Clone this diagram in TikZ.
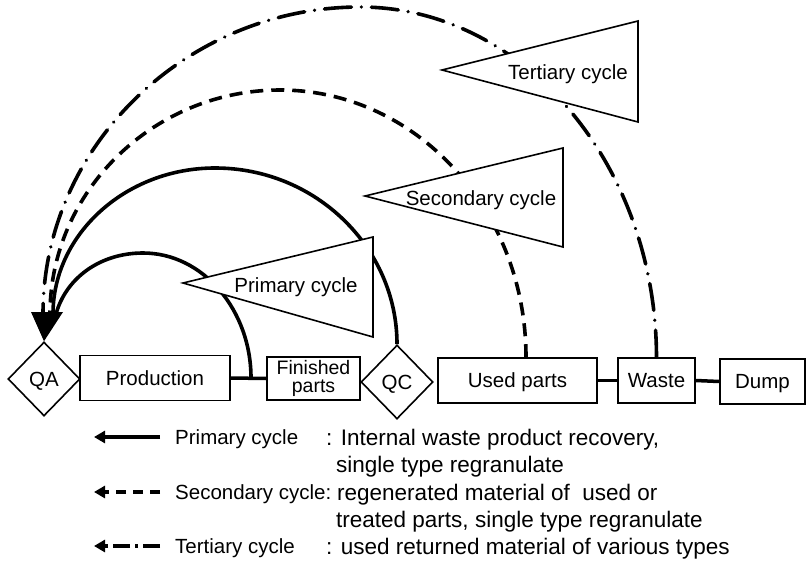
\documentclass[tikz,border=0pt]{standalone}
\usepackage{fontspec}
\setmainfont{Liberation Sans}
\usetikzlibrary{shapes.geometric,arrows.meta}
\begin{document}
\begin{tikzpicture}[x=1pt,y=-1pt,
  lbl/.style={font=\fontsize{20.5}{24}\selectfont, inner sep=0pt},
  capt/.style={lbl, text height=14.7pt, text depth=0pt},
  box/.style={draw, line width=1.6pt, rectangle, minimum height=45pt, inner sep=0pt},
  dia/.style={draw, line width=1.6pt, diamond, minimum width=72pt, minimum height=74pt, inner sep=0pt},
  link/.style={line width=3.5pt},
  cyc/.style={line width=3.6pt},
  prim/.style={cyc},
  sec/.style={cyc, dash pattern=on 13pt off 8pt},
  ter/.style={cyc, line cap=round, dash pattern=on 27pt off 10pt on 0.01pt off 10pt},
  tri/.style={draw, fill=white, line width=1.6pt, line join=miter},
  legl/.style={font=\fontsize{20.5}{24}\selectfont, inner sep=0pt, anchor=west, text height=14.7pt, text depth=0pt},
  leg/.style={font=\fontsize{22.5}{26}\selectfont, inner sep=0pt, anchor=west, text height=16.1pt, text depth=0pt},
  legarrow/.style={line width=3.2pt, -{Triangle[length=11pt,width=12pt]}},
]
\useasboundingbox (0,0) rectangle (808,562);

% bottom row
\node[dia, capt] (qa) at (44,379) {QA};
\node[box, capt, minimum width=150pt] (prod) at (155,378) {Production};
\node[box, minimum width=93pt, minimum height=43pt, inner sep=0pt, align=center, font=\fontsize{19.5}{18.5}\selectfont] (fin) at (313.5,378.5) {Finished\\parts};
\node[dia, capt] (qc) at (397,382) {QC};
\node[box, capt, minimum width=159pt] (used) at (517.5,380.5) {Used parts};
\node[box, capt, minimum width=77pt] (waste) at (656.5,380.5) {Waste};
\node[box, capt, minimum width=85pt] (dump) at (762.5,381.5) {Dump};

\draw[link] (prod.east) -- (fin.west);
\draw[link] (used.east) -- (waste.west);
\draw[link] (waste.east) -- (dump.west);

% arc ends
\coordinate (j1) at (251,378);
\coordinate (inT) at (43,314);
\coordinate (inS) at (50,314);
\coordinate (inO) at (53,314);
\coordinate (inI) at (56,314);

% cycles
\draw[ter] (waste.north) .. controls (656,164) and (523,7) .. (360,7) .. controls (188,7) and (43,145) .. (inT);
\draw[sec] ([xshift=8.5pt]used.north) .. controls (526,210) and (416,90) .. (280,90) .. controls (154,90) and (50,191) .. (inS);
\draw[prim] (qc.north) .. controls (397,248) and (316,168) .. (215,168) .. controls (126,168) and (53,234) .. (inO);
\draw[prim] (j1) .. controls (251,310) and (203,253) .. (143,253) .. controls (100,253) and (66,278) .. (inI);

% arrowhead into QA
\fill (31,312) -- (63,312) -- (qa.north) -- cycle;

% triangles
\draw[tri] (183,283) -- (373,237) -- (373,337) -- cycle;
\node[capt] (tp) at (296,285) {Primary cycle};
\draw[tri] (365,196) -- (563,148) -- (563,247) -- cycle;
\node[capt] (ts) at (481,198) {Secondary cycle};
\draw[tri] (442,70) -- (638,21) -- (638,122) -- cycle;
\node[capt] (tt) at (568,72) {Tertiary cycle};

% legend
\coordinate (a1r) at (160,437);
\coordinate (a1l) at (94,437);
\coordinate (a2r) at (160,492);
\coordinate (a2l) at (94,492);
\coordinate (a3r) at (160,546);
\coordinate (a3l) at (94,546);
\draw[legarrow] (a1r) -- (a1l);
\draw[legarrow, dash pattern=on 10pt off 7pt] (a2r) -- (a2l);
\draw[legarrow, dash pattern=on 17pt off 5pt on 3pt off 5pt] (a3r) -- (a3l);

\node[legl] (l1) at (175,437) {Primary cycle};
\node[leg] (d1) at (326,437) {: Internal waste product recovery,};
\node[leg] (d1b) at (336,464) {single type regranulate};
\node[legl] (l2) at (175,492) {Secondary cycle:};
\node[leg] (d2) at (337,492) {regenerated material of\ \ used or};
\node[leg] (d2b) at (336,519) {treated parts, single type regranulate};
\node[legl] (l3) at (175,546) {Tertiary cycle};
\node[leg] (d3) at (326,546) {: used returned material of various types};
\end{tikzpicture}
\end{document}
